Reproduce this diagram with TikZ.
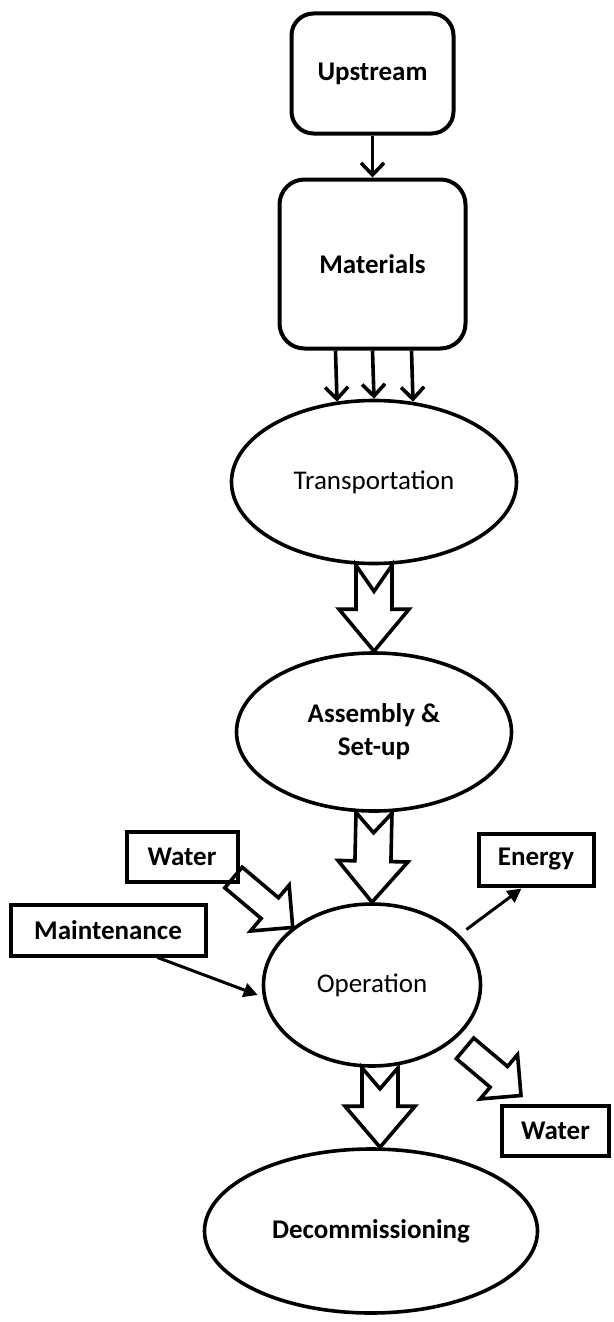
\documentclass[tikz,border=0pt]{standalone}
\usepackage{fontspec}
\setmainfont{Carlito}
\usetikzlibrary{calc,shapes.geometric,arrows.meta}

\tikzset{
  txt/.style={font=\fontsize{27}{33}\selectfont},
  stage/.style={draw, line width=4pt, rounded corners=22pt, align=center, txt},
  phase/.style={draw, ellipse, line width=3.6pt, inner sep=0pt, align=center, txt},
  flowbox/.style={draw, line width=4pt, inner sep=0pt, txt},
  feed/.style={line width=3.6pt, -{Straight Barb[length=12pt,width=23pt]}},
  pointer/.style={line width=3pt, -{Triangle[length=14pt,width=14pt]}},
  bulk/.style={draw, line width=3.6pt, line join=miter},
}

% Block arrow from #1 to #2: shaft half width #3, head half width #4,
% head length #5, depth of the tail notch #6
\newcommand\blockarrow[6]{%
  \coordinate (ba-h) at ($(#2)!#5!(#1)$);
  \coordinate (ba-n) at ($(#1)!#6!(#2)$);
  \draw[bulk] ($(#1)!#3!90:(#2)$) -- ($(ba-h)!#3!90:(#2)$)
    -- ($(ba-h)!#4!90:(#2)$) -- (#2) -- ($(ba-h)!#4!-90:(#2)$)
    -- ($(ba-h)!#3!-90:(#2)$) -- ($(#1)!#3!-90:(#2)$) -- (ba-n) -- cycle;
}

\begin{document}
\begin{tikzpicture}[x=1pt, y=-1pt]
\useasboundingbox (0,0) rectangle (613,1322);

% life-cycle stages
\node[stage, minimum width=162pt, minimum height=120pt] (up) at (372.5,73.5) {\textbf{Upstream}};
\node[stage, rounded corners=25pt, minimum width=186pt, minimum height=169pt] (mat) at (372.5,264) {\textbf{Materials}};
\node[phase, minimum width=285pt, minimum height=163pt] (trans) at (374,482) {Transportation};
\node[phase, minimum width=275pt, minimum height=158pt] (asm) at (374,732) {\textbf{Assembly \&}\\[0pt]\textbf{Set-up}};
\node[phase, minimum width=217pt, minimum height=162pt] (op) at (372,985) {Operation};
\node[phase, minimum width=333pt, minimum height=164pt] (dec) at (371,1231) {\textbf{Decommissioning}};

% inputs and outputs of the operation phase
\node[flowbox, minimum width=111pt, minimum height=50pt] (waterin) at (182,856.5) {\textbf{Water}};
\node[flowbox, minimum width=195pt, minimum height=51pt] (maint) at (108,930) {\textbf{Maintenance}};
\node[flowbox, minimum width=115pt, minimum height=52pt] (energy) at (536,859.5) {\textbf{Energy}};
\node[flowbox, minimum width=107pt, minimum height=50pt] (waterout) at (555.5,1130.5) {\textbf{Water}};

% material supply
\draw[feed] (up) -- (mat);
\draw[feed] ($(mat.south)+(-37,0)$) -- ($(trans.north)+(-37,3)$);
\draw[feed] (mat.south) -- (trans.north);
\draw[feed] ($(mat.south)+(39,0)$) -- ($(trans.north)+(39,3)$);

% main flow between phases
\blockarrow{trans.south}{asm.north}{18pt}{35pt}{42pt}{26pt}
\blockarrow{asm.south}{op.north}{18pt}{35pt}{41pt}{20pt}
\coordinate (op-out) at ($(op.south)+(8,0)$);
\coordinate (dec-in) at ($(dec.north)+(9,0)$);
\blockarrow{op-out}{dec-in}{18pt}{35pt}{41pt}{21pt}

% water in and out
\coordinate (w-tail) at ($(waterin.south east)+(-6,-6)$);
\blockarrow{w-tail}{op.144}{13.5pt}{30pt}{30pt}{0pt}
\coordinate (wo-tail) at ($(op.-34)+(11,8)$);
\coordinate (wo-tip) at ($(waterout.north west)+(21,-8)$);
\blockarrow{wo-tail}{wo-tip}{13.5pt}{29pt}{29pt}{0pt}

% maintenance and energy
\draw[pointer] ($(maint.south east)+(-50,0)$) -- ($(op.west)+(-4,10)$);
\draw[pointer] ($(op.30)+(7,-5)$) -- ($(energy.south west)+(45,1)$);
\end{tikzpicture}
\end{document}
